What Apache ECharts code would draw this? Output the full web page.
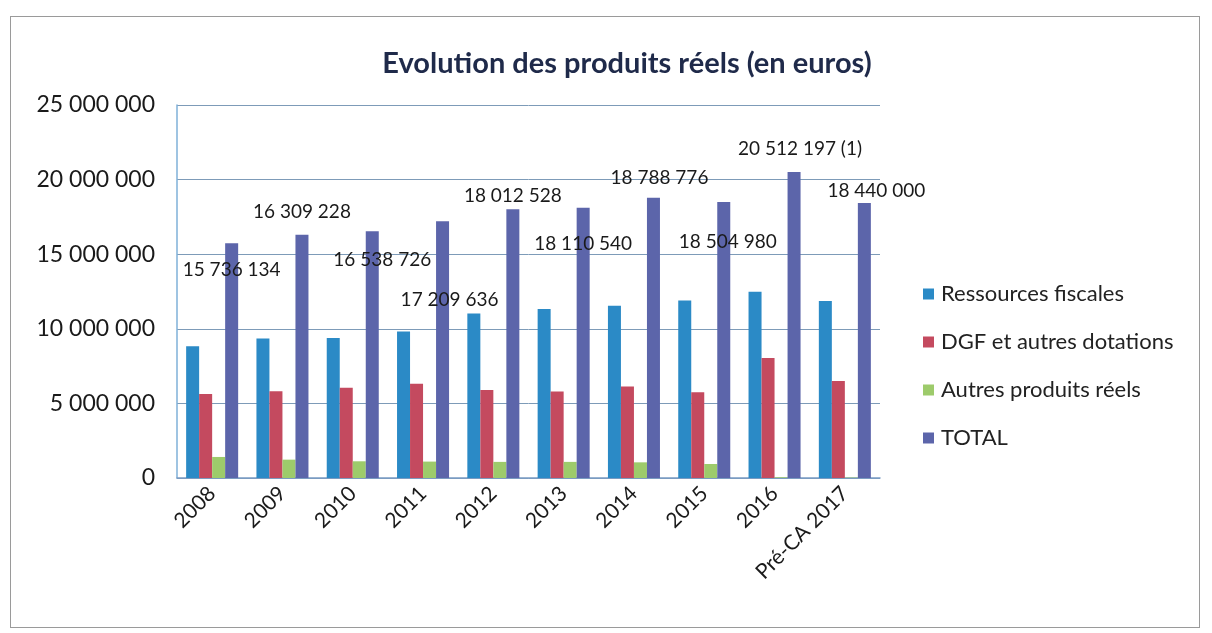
<!DOCTYPE html>
<html>
<head>
<meta charset="utf-8">
<script src="https://cdn.jsdelivr.net/npm/echarts@6/dist/echarts.min.js"></script>
<style>
  html, body { margin: 0; padding: 0; background: #fff; }
  #frame { position: absolute; left: 10px; top: 16px; width: 1190px; height: 612px; border: 1px solid #9a9a9a; box-sizing: border-box; }
  #chart { position: absolute; left: 0; top: 0; width: 1212px; height: 633px; }
</style>
</head>
<body>
<div id="frame"></div>
<div id="chart"></div>
<script>
const years = ['2008', '2009', '2010', '2011', '2012', '2013', '2014', '2015', '2016', 'Pré-CA 2017']
const fiscal = [8830000, 9350000, 9390000, 9820000, 11030000, 11320000, 11550000, 11900000, 12490000, 11870000]
const dgf    = [5630000, 5810000, 6050000, 6320000, 5900000, 5800000, 6140000, 5740000, 8050000, 6500000]
const autres = [1410000, 1230000, 1120000, 1100000, 1080000, 1080000, 1050000, 940000, 50000, 30000]
const total  = [15736134, 16309228, 16538726, 17209636, 18012528, 18110540, 18788776, 18504980, 20512197, 18440000]
const totalNotes = ['', '', '', '', '', '', '', '', ' (1)', '']

// where the scan's labels sit relative to the top of each TOTAL bar
const labelOffsets = [[0, 36], [0, -13], [10, 38], [7, 88], [0, -4], [0, 46], [6, -10], [4, 49], [6, -14], [12, -3]]

const FONT = 'Lato, "Open Sans", sans-serif'
const C_FISC = '#2b8ac6', C_DGF = '#c44a5f', C_AUT = '#9dcb6b', C_TOT = '#5c65aa'

const fmt = v => Math.round(v).toString().replace(/\B(?=(\d{3})+(?!\d))/g, ' ')

const chart = echarts.init(document.getElementById('chart'), null, { renderer: 'canvas' })

chart.setOption({
  backgroundColor: 'transparent',
  animation: false,
  textStyle: { fontFamily: FONT },
  title: {
    text: 'Evolution des produits réels (en euros)',
    left: 622, top: 44, textAlign: 'center',
    textStyle: { color: '#1f2a4a', fontSize: 29, fontWeight: 'bold', fontFamily: FONT },
  },
  legend: {
    orient: 'vertical',
    left: 918, top: 278,
    itemGap: 26,
    itemWidth: 11, itemHeight: 11,
    icon: 'rect',
    textStyle: { color: '#222', fontSize: 22, fontFamily: FONT, padding: [0, 0, 0, 2] },
    data: ['Ressources fiscales', 'DGF et autres dotations', 'Autres produits réels', 'TOTAL'],
  },
  grid: { left: 177, right: 332, top: 105, bottom: 155, containLabel: false },
  xAxis: {
    type: 'category',
    data: years,
    axisLine: { show: true, lineStyle: { color: '#7a9cc4', width: 1.5 } },
    axisTick: { show: false },
    axisLabel: { color: '#1a1a1a', fontSize: 21, rotate: 45, margin: 12, interval: 0, fontFamily: FONT },
    splitLine: { show: false },
  },
  yAxis: {
    type: 'value',
    min: 0, max: 25000000, interval: 5000000,
    axisLine: { show: true, lineStyle: { color: '#7fb0d8', width: 1.5 } },
    axisTick: { show: false },
    axisLabel: { color: '#1a1a1a', fontSize: 23, margin: 22, formatter: fmt, fontFamily: FONT },
    splitLine: { lineStyle: { color: '#7d9bb8', width: 1 } },
  },
  series: [
    {
      name: 'Ressources fiscales', type: 'bar', data: fiscal,
      itemStyle: { color: C_FISC }, barGap: '0%', barCategoryGap: '26%',
    },
    {
      name: 'DGF et autres dotations', type: 'bar', data: dgf,
      itemStyle: { color: C_DGF }, barGap: '0%', barCategoryGap: '26%',
    },
    {
      name: 'Autres produits réels', type: 'bar', data: autres,
      itemStyle: { color: C_AUT }, barGap: '0%', barCategoryGap: '26%',
    },
    {
      name: 'TOTAL', type: 'bar',
      itemStyle: { color: C_TOT }, barGap: '0%', barCategoryGap: '26%',
      data: total.map((v, i) => ({
        value: v,
        label: { offset: labelOffsets[i] },
      })),
      label: {
        show: true, position: 'top', distance: 0,
        color: '#1a1a1a', fontSize: 19, fontFamily: FONT,
        formatter: p => fmt(p.value) + totalNotes[p.dataIndex],
      },
      z: 3,
    },
  ],
  tooltip: { show: false },
})
</script>
</body>
</html>
